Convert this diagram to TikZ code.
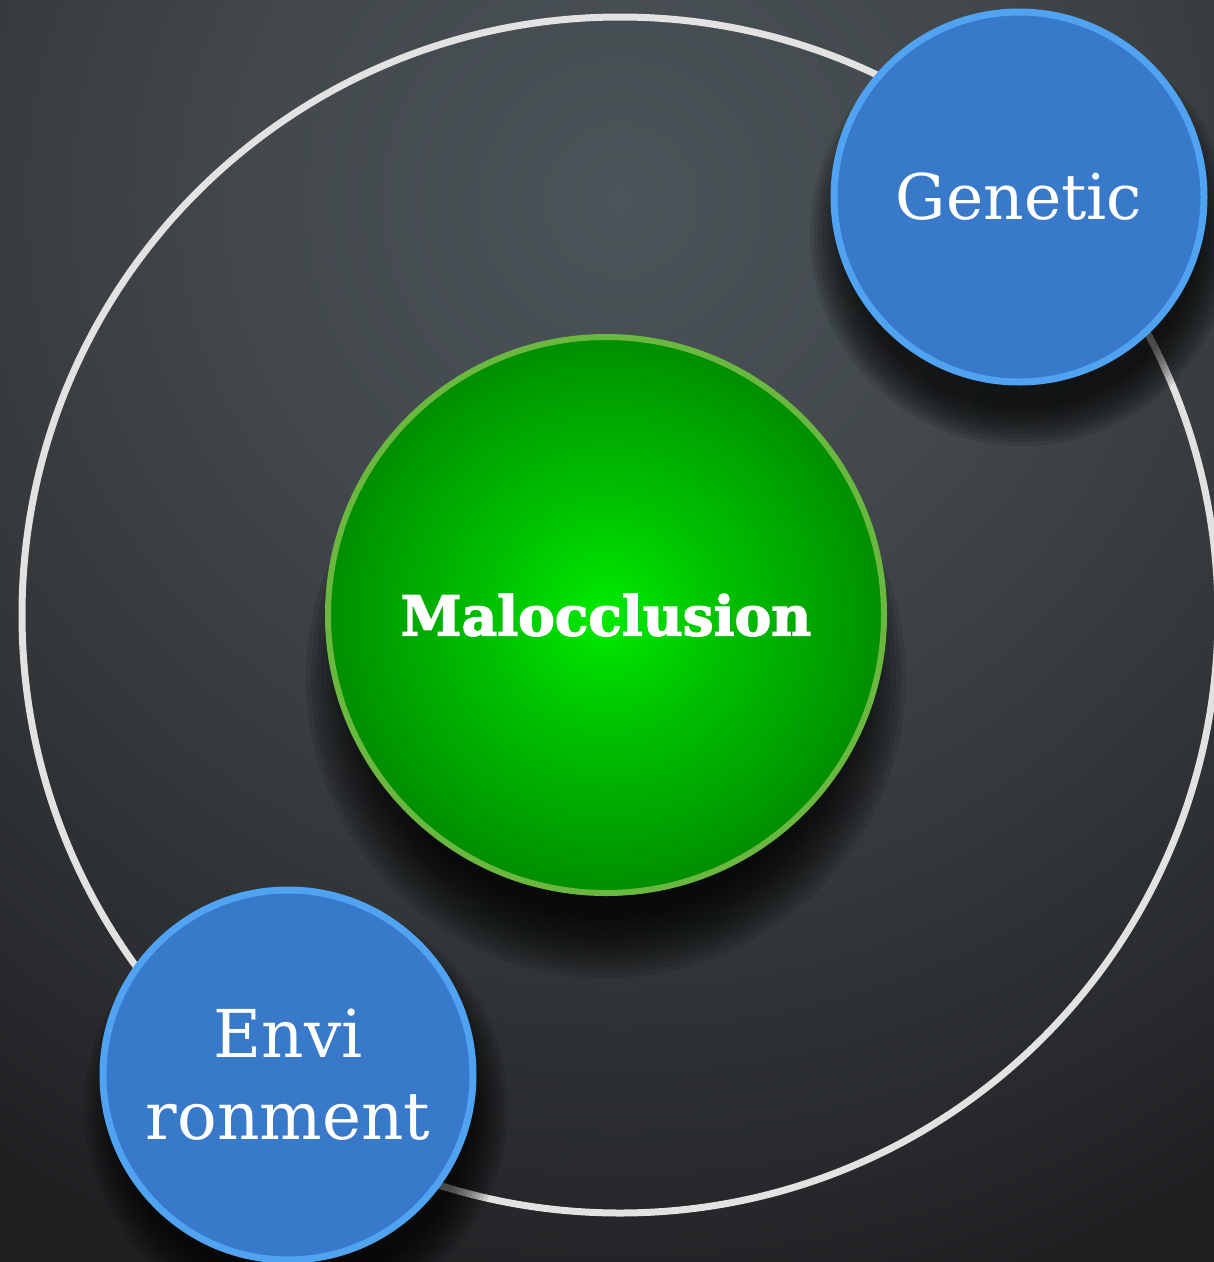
\documentclass[tikz,border=0pt]{standalone}
\usepackage{fontspec}
\usepackage{tikz}
\newfontfamily\typefont{DejaVu Serif}
\newfontfamily\heavyfont{DejaVu Serif Bold}[FakeBold=2.5]
\definecolor{bgc0}{HTML}{4C5459}
\definecolor{bgc1}{HTML}{42484C}
\definecolor{bgc2}{HTML}{35393C}
\definecolor{bgc3}{HTML}{282A2D}
\definecolor{bgout}{HTML}{1D1F21}
\definecolor{ringcol}{HTML}{E2E2E2}
\definecolor{bluefill}{HTML}{387AC9}
\definecolor{blueline}{HTML}{4FA3F0}
\definecolor{greenline}{HTML}{6AB83F}
\definecolor{gcenter}{HTML}{00EC00}
\definecolor{gmid}{HTML}{00C200}
\definecolor{gmid2}{HTML}{00A400}
\definecolor{gedge}{HTML}{008E00}
\pgfdeclareradialshading{bgshade}{\pgfpoint{0bp}{0bp}}{color(0bp)=(bgc0); color(8bp)=(bgc1); color(15bp)=(bgc2); color(21bp)=(bgc3); color(25bp)=(bgout); color(50bp)=(bgout)}
\pgfdeclareradialshading{greenshade}{\pgfpoint{0bp}{0bp}}{color(0bp)=(gcenter); color(10bp)=(gmid); color(19bp)=(gmid2); color(25bp)=(gedge); color(50bp)=(gedge)}
\tikzset{
  ringstyle/.style={draw=ringcol, line width=7pt},
  bluenode/.style={circle, fill=bluefill, draw=blueline, line width=7pt, minimum size=370pt, inner sep=0pt, text=white, font=\typefont\fontsize{63}{80}\selectfont},
  greennode/.style={circle, shading=greenshade, draw=greenline, line width=6pt, minimum size=556pt, inner sep=0pt, text=white, font=\heavyfont\fontsize{55}{70}\selectfont},
  shadowpiece/.style={fill=black, fill opacity=0.1}
}
\begin{document}
\begin{tikzpicture}[x=1pt,y=-1pt]
\useasboundingbox (0,0) rectangle (1214,1262);
\clip (0,0) rectangle (1214,1262);
% background
\fill[bgout] (0,0) rectangle (1214,1262);
\shade[shading=bgshade] (620,200) circle[radius=1150];
% outer ring
\draw[ringstyle] (620,615) circle[radius=598];
% shadows
\foreach \r in {300,295,290,285,280,275,270,265,260,255,250,245,240}{
  \fill[shadowpiece] (606,678) circle[radius=\r];
}
\foreach \r in {212,208,204,200,196,192,188,184,180,176}{
  \fill[shadowpiece] (1022,234) circle[radius=\r];
  \fill[shadowpiece] (296,1108) circle[radius=\r];
}
% nodes
\node[greennode] (malo) at (606,615) {Malocclusion};
\node[bluenode] (gen) at (1019,197) {Genetic};
\node[bluenode, align=center, font=\typefont\fontsize{66}{82}\selectfont] (env) at (288,1075) {Envi\\ronment};
\end{tikzpicture}
\end{document}
